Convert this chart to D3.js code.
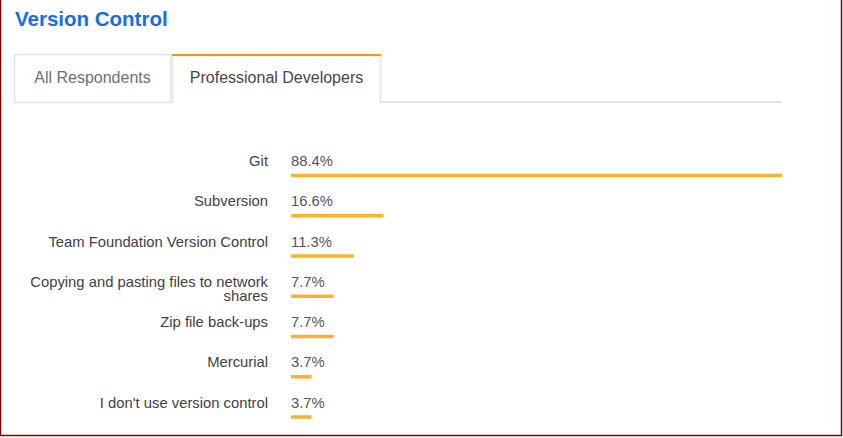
<!DOCTYPE html>
<html>
<head>
<meta charset="utf-8">
<script src="https://cdn.jsdelivr.net/npm/d3@7"></script>
<style>
  html, body { margin: 0; padding: 0; background: #fff; }
  svg { display: block; font-family: "Liberation Sans", Arial, Helvetica, sans-serif; }
</style>
</head>
<body>
<svg id="chart" width="843" height="438"></svg>
<script>
const title = "Version Control";
const tabs = ["All Respondents", "Professional Developers"];
const activeTab = "Professional Developers";
const categories = [
  "Git",
  "Subversion",
  "Team Foundation Version Control",
  "Copying and pasting files to network shares",
  "Zip file back-ups",
  "Mercurial",
  "I don't use version control"
];
const values = [88.4, 16.6, 11.3, 7.7, 7.7, 3.7, 3.7];

const svg = d3.select("#chart");
const W = 843, H = 438;

// frame
svg.append("rect").attr("x", 0.5).attr("y", -2).attr("width", W - 2).attr("height", H - 0.5)
  .attr("fill", "none").attr("stroke", "#800000").attr("stroke-width", 1.5);

// title
svg.append("text").attr("x", 15).attr("y", 26)
  .attr("font-size", 20.5).attr("font-weight", "bold").attr("fill", "#1a6ce6")
  .text(title);

// tabs
const tabX = d3.scaleOrdinal().domain(tabs).range([14, 172]);
const tabW = d3.scaleOrdinal().domain(tabs).range([157, 209]);
const tabTop = 54, tabBottom = 102;

svg.append("line").attr("x1", 381).attr("x2", 782).attr("y1", tabBottom).attr("y2", tabBottom)
  .attr("stroke", "#e4e4e4").attr("stroke-width", 2);

tabs.forEach(t => {
  const x = tabX(t), w = tabW(t);
  const g = svg.append("g");
  const active = t === activeTab;
  if (active) {
    g.append("path")
      .attr("d", `M${x + 0.5},${tabBottom + 1} V${tabTop} M${x + w - 0.5},${tabTop} V${tabBottom + 1}`)
      .attr("stroke", "#e4e4e4").attr("stroke-width", 1.5).attr("fill", "none");
    g.append("line").attr("x1", x).attr("x2", x + w).attr("y1", tabTop + 1).attr("y2", tabTop + 1)
      .attr("stroke", "#f7941d").attr("stroke-width", 2);
  } else {
    g.append("rect").attr("x", x + 0.5).attr("y", tabTop + 0.5).attr("width", w - 1).attr("height", tabBottom - tabTop)
      .attr("fill", "#fff").attr("stroke", "#e4e4e4").attr("stroke-width", 1.5);
  }
  g.append("text").attr("x", x + w / 2).attr("y", 82.5).attr("text-anchor", "middle")
    .attr("font-size", 16).attr("fill", active ? "#474747" : "#6f6f6f").text(t);
});

// bars
const x = d3.scaleLinear().domain([0, d3.max(values)]).range([291, 782]);
const y = d3.scalePoint().domain(categories).range([175.5, 417]);
const fmt = v => d3.format(".1f")(v) + "%";

const rows = svg.append("g").selectAll("g").data(categories).join("g");

rows.append("rect")
  .attr("x", x(0))
  .attr("y", d => y(d) - 1.75)
  .attr("width", (d, i) => x(values[i]) - x(0))
  .attr("height", 3.5)
  .attr("fill", "#fdb22f");

rows.append("text")
  .attr("x", x(0))
  .attr("y", d => y(d) - 9.5)
  .attr("font-size", 14.8).attr("fill", "#555")
  .text((d, i) => fmt(values[i]));

// labels with wrapping
const maxW = 246;
rows.each(function(d) {
  const t = d3.select(this).append("text")
    .attr("x", 268).attr("y", y(d) - 9.5)
    .attr("text-anchor", "end").attr("font-size", 14.8).attr("fill", "#3f3f3f");
  const words = d.split(" ");
  let line = [];
  let tspan = t.append("tspan").attr("x", 268).attr("dy", 0);
  words.forEach(w => {
    line.push(w);
    tspan.text(line.join(" "));
    if (tspan.node().getComputedTextLength() > maxW && line.length > 1) {
      line.pop();
      tspan.text(line.join(" "));
      line = [w];
      tspan = t.append("tspan").attr("x", 268).attr("dy", 14.5).text(w);
    }
  });
});
</script>
</body>
</html>
